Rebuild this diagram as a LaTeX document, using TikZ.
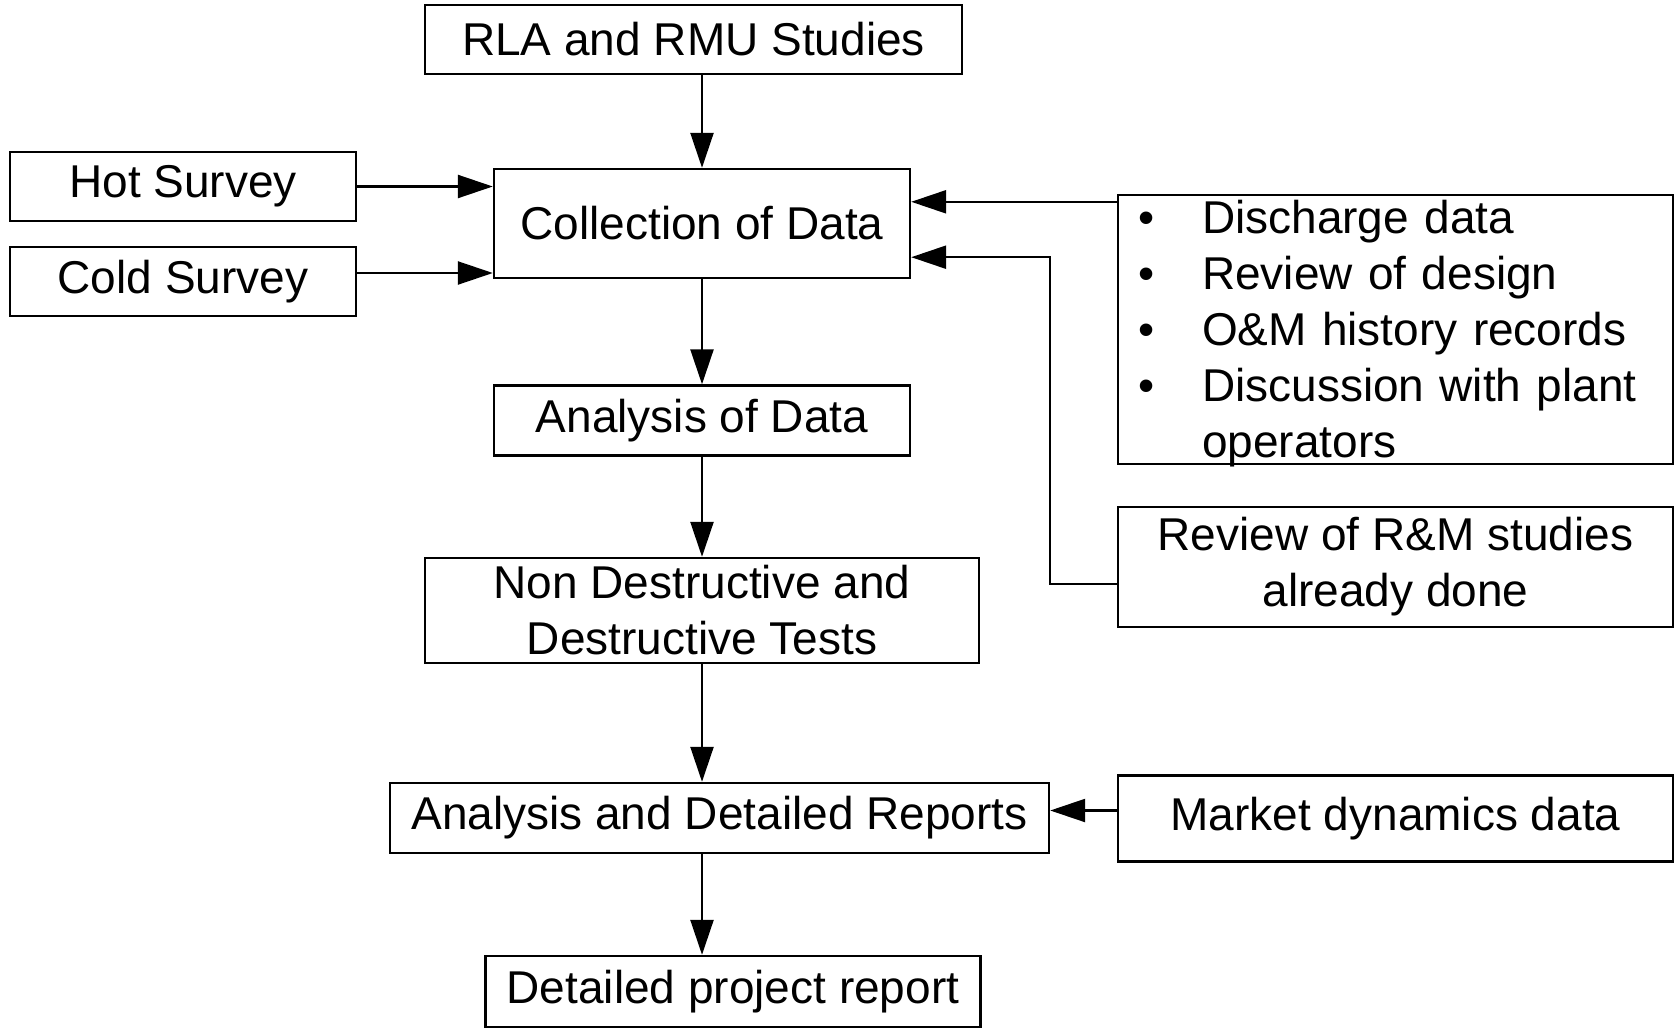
\documentclass[tikz,border=0pt]{standalone}
\usepackage{fontspec}
\setmainfont{Liberation Sans}
\usetikzlibrary{arrows.meta}

\begin{document}
\begin{tikzpicture}[x=0.5pt, y=-0.5pt,
        box/.style={draw, line width=1.2pt, inner sep=0pt, align=center,
            font=\fontsize{23}{28}\selectfont},
        arr/.style={line width=1.2pt, -{Triangle[length=17.5pt, width=11.5pt]}}]
    \useasboundingbox (0, 0) rectangle (1676, 1028);
    % main column
    \node[box, minimum width=268.5pt, minimum height=34.5pt] (rla) at (693.5, 39.5) {RLA and RMU Studies};
    \node[box, minimum width=208pt, minimum height=54.5pt] (coll) at (702, 223.5) {Collection of Data};
    \node[box, minimum width=208pt, minimum height=35pt] (anal) at (702, 420.5) {Analysis of Data};
    \node[box, minimum width=277pt, minimum height=52.5pt] (ndt) at (702, 610.5) {Non Destructive and\\Destructive Tests};
    \node[box, minimum width=329.5pt, minimum height=35pt] (adr) at (719.5, 818) {Analysis and Detailed Reports};
    \node[box, minimum width=247.5pt, minimum height=35.5pt] (dpr) at (733, 991.5) {Detailed project report};
    % left inputs
    \node[box, minimum width=173pt, minimum height=34.5pt] (hot) at (183, 186.5) {Hot Survey};
    \node[box, minimum width=173pt, minimum height=34.5pt] (cold) at (183, 281.5) {Cold Survey};
    % right inputs
    \node[box, text width=257.5pt, inner xsep=10pt, align=left, text height=75.7pt, text depth=58.8pt] (bul) at (1395.5, 329.5)
        {\begin{tabular}{@{}l@{\hspace{24pt}}l@{}}
            \textbullet & Discharge data\\
            \textbullet & Review of design\\
            \textbullet & O\&M history records\\
            \textbullet & Discussion with plant\\
                        & operators
        \end{tabular}};
    \node[box, minimum width=277.5pt, minimum height=60pt] (rev) at (1395.5, 567) {Review of R\&M studies\\already done};
    \node[box, minimum width=277.5pt, minimum height=43pt] (mkt) at (1395.5, 818.5) {Market dynamics data};

    \draw[arr] (rla.south -| coll) -- (coll.north);
    \draw[arr] (coll) -- (anal);
    \draw[arr] (anal) -- (ndt);
    \draw[arr] (ndt) -- (adr.north -| ndt);
    \draw[arr] (adr.south -| ndt) -- (dpr.north -| ndt);
    \draw[arr] (hot.east) -- (hot.east -| coll.west);
    \draw[arr] ([yshift=4.25pt]cold.east) coordinate (c1) -- (c1 -| coll.west);
    \draw[arr] ([yshift=-4pt]bul.north west) coordinate (b1) -- (b1 -| coll.east);
    \coordinate (c2) at ([yshift=11pt]coll.south east);
    \draw[arr] ([yshift=-8.5pt]rev.west) -| (adr.east |- c2) -- (c2);
    \draw[arr] ([yshift=4pt]mkt.west) coordinate (m1) -- (m1 -| adr.east);
\end{tikzpicture}
\end{document}
